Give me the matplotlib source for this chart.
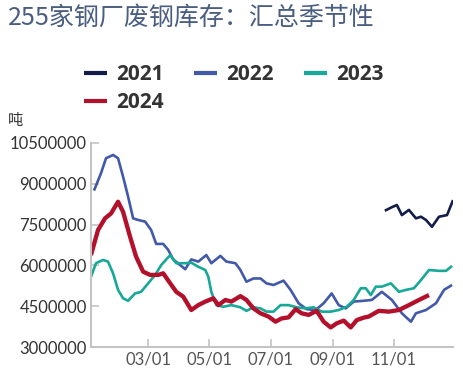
import numpy as np
import matplotlib
matplotlib.use("Agg")
import matplotlib.pyplot as plt
import matplotlib.dates as mdates

plt.rcParams['font.family'] = ['Noto Sans CJK SC', 'DejaVu Sans']

# 日期 = 1月1日起的天数, 库存单位: 万吨
d2021 = [295, 302, 307, 312, 319, 326, 331, 336, 342, 349, 357, 363]
v2021 = [801, 814, 822, 785, 804, 773, 779, 767, 742, 779, 785, 840]

d2022 = [5, 12, 17, 24, 29, 34, 39, 44, 49, 56, 62, 67, 74, 79, 84, 91, 96,
         102, 109, 117, 122, 131, 137, 146, 151, 157, 164, 171, 177, 184,
         194, 201, 209, 217, 226, 234, 242, 249, 256, 264, 274, 282, 292,
         302, 312, 321, 326, 336, 346, 354, 362]
v2022 = [875, 939, 994, 1006, 994, 926, 853, 773, 767, 761, 730, 679, 679,
         657, 622, 601, 586, 622, 614, 638, 608, 635, 614, 608, 583, 540,
         552, 552, 534, 528, 544, 510, 461, 439, 436, 461, 497, 454, 442,
         467, 470, 473, 503, 473, 424, 393, 424, 436, 461, 510, 528]

d2023 = [2, 7, 14, 19, 24, 29, 34, 39, 46, 52, 59, 66, 72, 81, 87, 96, 102,
         109, 116, 119, 122, 127, 134, 142, 151, 157, 164, 171, 177, 184,
         191, 199, 207, 216, 224, 232, 241, 249, 257, 264, 271, 276, 281,
         286, 292, 301, 309, 316, 324, 331, 339, 349, 356, 362]
v2023 = [558, 608, 620, 614, 571, 510, 479, 470, 497, 503, 534, 565, 601,
         638, 608, 608, 610, 595, 583, 558, 503, 454, 448, 454, 446, 433,
         446, 442, 430, 430, 454, 454, 446, 442, 446, 430, 430, 436, 448,
         473, 516, 516, 491, 522, 522, 534, 503, 510, 516, 546, 583, 580,
         580, 598]

d2024 = [2, 9, 16, 22, 29, 34, 41, 47, 54, 61, 69, 74, 81, 87, 94, 102, 109,
         116, 124, 129, 136, 142, 151, 157, 164, 171, 179, 186, 192, 199,
         206, 212, 219, 227, 234, 241, 247, 254, 261, 267, 274, 279, 289,
         299, 309, 319, 329, 339]
v2024 = [638, 730, 773, 791, 834, 797, 705, 632, 577, 565, 565, 571, 534,
         503, 485, 436, 454, 467, 479, 454, 473, 467, 487, 473, 442, 424,
         412, 393, 405, 409, 439, 424, 418, 433, 393, 372, 387, 397, 372,
         399, 408, 412, 433, 430, 436, 454, 473, 491]

series = [
    ('2021', d2021, v2021, '#141d4a', 1.9),
    ('2022', d2022, v2022, '#4259aa', 1.9),
    ('2023', d2023, v2023, '#17a898', 1.9),
    ('2024', d2024, v2024, '#b3102b', 3.1),
]

yticks = [3000000, 4500000, 6000000, 7500000, 9000000, 10500000]
xtick_months = [3, 5, 7, 9, 11]

base = np.datetime64('2021-01-01')

fig = plt.figure(figsize=(4.63, 3.76), dpi=100)
ax = fig.add_axes([0.1965, 0.0771, 0.782, 0.5426])

lines = {}
for name, d, v, c, lw in series:
    x = base + np.array(d, dtype='timedelta64[D]')
    y = np.array(v) * 10000
    lines[name], = ax.plot(x, y, color=c, lw=lw, solid_capstyle='butt',
                           solid_joinstyle='round')

ax.set_ylim(yticks[0], yticks[-1])
ax.set_yticks(yticks)
ax.set_yticklabels([str(t) for t in yticks], fontfamily='Lato', fontsize=12,
                   color='#333333')
ax.set_xlim(base + np.timedelta64(2, 'D'), base + np.timedelta64(363, 'D'))
ax.set_xticks([np.datetime64('2021-%02d-01' % m) for m in xtick_months])
ax.xaxis.set_major_formatter(mdates.DateFormatter('%m/%d'))
for lab in ax.get_xticklabels():
    lab.set_fontfamily('Lato')
    lab.set_fontsize(12)
    lab.set_color('#555555')

for s in ['top', 'right']:
    ax.spines[s].set_visible(False)
for s in ['left', 'bottom']:
    ax.spines[s].set_color('#c4c4c4')
    ax.spines[s].set_linewidth(1.5)
ax.tick_params(direction='in', length=5.5, width=1.2, color='#c4c4c4', pad=3)

order = ['2021', '2024', '2022', '2023']
leg = fig.legend([lines[k] for k in order], order, ncol=3, loc='upper left',
                 bbox_to_anchor=(84 / 463, 1 - 64 / 376), frameon=False,
                 borderpad=0, borderaxespad=0, handlelength=1.1,
                 handletextpad=0.45, columnspacing=1.45, labelspacing=0.36,
                 prop={'family': 'Open Sans', 'weight': 'bold', 'size': 15})
for t in leg.get_texts():
    t.set_color('#333333')
for h in leg.legend_handles:
    h.set_linewidth(3)

fig.text(8 / 463, 1 - 18 / 376, '255家钢厂废钢库存：汇总季节性', fontsize=18,
         color='#4a5e82', va='center', ha='left')
fig.text(8 / 463, 1 - 121 / 376, '吨', fontsize=11, color='#333333',
         va='center', ha='left')

fig.savefig('out.png', dpi=100)
